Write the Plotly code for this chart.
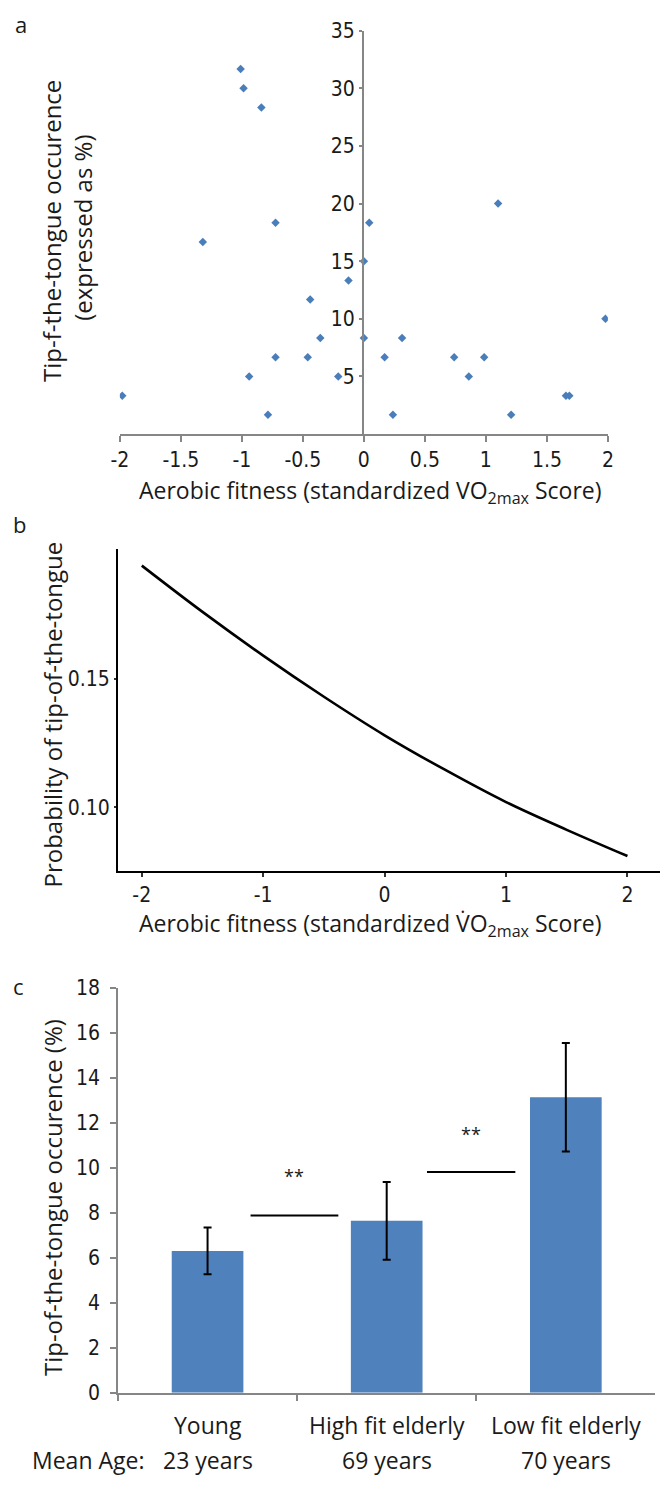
import plotly.graph_objects as go

# ---------------- data ----------------
# Panel a: scatter
fit_x = [-1.01, -0.986, -0.84, -0.724, -1.32, 0.044, 1.10, 0.0, -0.126, -0.44,
         1.98, -0.357, 0.0, 0.313, -0.724, -0.46, 0.17, 0.74, 0.986,
         -0.94, -0.21, 0.86, -1.98, 1.656, 1.684, -0.786, 0.238, 1.207]
tot_pct = [31.67, 30.0, 28.33, 18.33, 16.67, 18.33, 20.0, 15.0, 13.33, 11.67,
           10.0, 8.33, 8.33, 8.33, 6.67, 6.67, 6.67, 6.67, 6.67,
           5.0, 5.0, 5.0, 3.33, 3.33, 3.33, 1.67, 1.67, 1.67]
a_xticks = [-2, -1.5, -1, -0.5, 0, 0.5, 1, 1.5, 2]
a_xticklabels = ["-2", "-1.5", "-1", "-0.5", "0", "0.5", "1", "1.5", "2"]
a_yticks = [5, 10, 15, 20, 25, 30, 35]

# Panel b: fitted probability curve
curve_x = [-2, -1.5, -1, -0.5, 0, 0.5, 1, 1.5, 2]
curve_p = [0.194, 0.176, 0.159, 0.143, 0.128, 0.1145, 0.102, 0.0912, 0.081]
b_xticks = [-2, -1, 0, 1, 2]
b_xticklabels = ["-2", "-1", "0", "1", "2"]
b_yticks = [0.10, 0.15]
b_yticklabels = ["0.10", "0.15"]

# Panel c: bars
groups = ["Young", "High fit elderly", "Low fit elderly"]
ages = ["23 years", "69 years", "70 years"]
means = [6.3, 7.64, 13.13]
errs = [1.04, 1.73, 2.41]
c_yticks = [0, 2, 4, 6, 8, 10, 12, 14, 16, 18]
# significance brackets: (x start, x end, line level, star level)
sig_x0 = [0.24, 1.225]
sig_x1 = [0.73, 1.718]
sig_line = [7.88, 9.81]
sig_star = [9.65, 11.5]
sig_text = ["**", "**"]

# ---------------- layout helpers ----------------
W, H = 666, 1489
def px(x):
    return x / W
def py(y):
    return 1 - y / H

TXT = "Open Sans, Noto Sans, sans-serif"
NUM = "Liberation Sans Narrow, DejaVu Sans Condensed, sans-serif"
GRAY = "#868686"
BLUE_PT = "#4a7ebb"
BLUE_BAR = "#4f81bd"
INK = "#1a1a1a"

fig = go.Figure()

fig.add_trace(go.Scatter(
    x=fit_x, y=tot_pct, mode="markers",
    marker=dict(symbol="diamond", size=6.5, color=BLUE_PT),
    xaxis="x", yaxis="y", showlegend=False))

fig.add_trace(go.Scatter(
    x=curve_x, y=curve_p, mode="lines",
    line=dict(color="black", width=2.6, shape="spline"),
    xaxis="x2", yaxis="y2", showlegend=False))

fig.add_trace(go.Bar(
    x=groups, y=means, width=0.4, marker=dict(color=BLUE_BAR, line=dict(width=0)),
    error_y=dict(type="data", array=errs, color="black", thickness=2, width=4),
    xaxis="x3", yaxis="y3", showlegend=False))

tickfont = dict(family=NUM, size=21, color=INK)

fig.update_layout(
    width=W, height=H,
    margin=dict(l=0, r=0, t=0, b=0),
    paper_bgcolor="white", plot_bgcolor="white",
    font=dict(family=TXT, color=INK),
    xaxis=dict(domain=[px(113.4), px(612.7)], range=[-2, 2], anchor="y",
               tickvals=a_xticks, ticktext=a_xticklabels,
               showline=True, linecolor=GRAY, linewidth=1.5,
               ticks="outside", ticklen=6, tickcolor=GRAY, tickwidth=1.5,
               showgrid=False, zeroline=False, tickfont=tickfont),
    yaxis=dict(domain=[py(429), py(19)], range=[0, 35], anchor="free",
               position=px(362),
               tickvals=a_yticks,
               showline=True, linecolor=GRAY, linewidth=1.5,
               ticks="outside", ticklen=3, tickcolor=GRAY, tickwidth=1.5,
               showgrid=False, zeroline=False, tickfont=tickfont),
    xaxis2=dict(domain=[px(111.5), 1.0], range=[-2.196, 2.268], anchor="y2",
                tickvals=b_xticks, ticktext=b_xticklabels,
                showline=True, linecolor="black", linewidth=2,
                ticks="outside", ticklen=4, tickcolor="#333", tickwidth=2,
                showgrid=False, zeroline=False, tickfont=tickfont),
    yaxis2=dict(domain=[py(873.3), py(546)], range=[0.0751, 0.2004], anchor="x2",
                tickvals=b_yticks, ticktext=b_yticklabels,
                showline=True, linecolor="black", linewidth=2,
                ticks="outside", ticklen=2, tickcolor="#333", tickwidth=2,
                showgrid=False, zeroline=False, tickfont=tickfont),
    xaxis3=dict(domain=[px(111.5), px(661.3)], range=[-0.5, 2.5], anchor="y3",
                type="category", tickson="boundaries", showticklabels=False,
                showline=True, linecolor=GRAY, linewidth=1.5,
                ticks="outside", ticklen=7, tickcolor=GRAY, tickwidth=1.5,
                showgrid=False, zeroline=False),
    yaxis3=dict(domain=[py(1403.3), py(991.7)], range=[0, 18], anchor="x3",
                tickvals=c_yticks,
                showline=True, linecolor=GRAY, linewidth=1.5,
                ticks="outside", ticklen=6, tickcolor=GRAY, tickwidth=1.5,
                ticklabelstandoff=6,
                showgrid=False, zeroline=False, tickfont=tickfont),
)

ann = []
def A(text, x, y, size, angle=0, xanchor="center", family=TXT, xref="paper", yref="paper"):
    ann.append(dict(text=text, x=x, y=y, xref=xref, yref=yref, showarrow=False,
                    xanchor=xanchor, yanchor="middle", textangle=angle,
                    font=dict(family=family, size=size, color=INK)))

# panel labels
A("a", px(12), py(12), 22)
A("b", px(11), py(520), 22)
A("c", px(10), py(990), 22)

# panel a titles
A("Aerobic fitness (standardized VO<sub>2max</sub> Score)", px(370), py(487), 23)
A("Tip-f-the-tongue occurence", px(44), py(222.5), 24, angle=-90)
A("(expressed as %)", px(75), py(219), 24, angle=-90)

# panel b titles
A("Probability of tip-of-the-tongue", px(44), py(714), 24, angle=-90)
A("Aerobic fitness (standardized V\u0307O<sub>2max</sub> Score)", px(370), py(927), 23)

# panel c titles and labels
A("Tip-of-the-tongue occurence (%)", px(44), py(1205.5), 24, angle=-90)
for g, a_ in zip(groups, ages):
    A(g, g, py(1436), 23, xref="x3")
    A(a_, g, py(1472), 23, xref="x3")
A("Mean Age:", px(21), py(1472), 23, xanchor="left")

shapes = []
for x0, x1, yl, ys, t in zip(sig_x0, sig_x1, sig_line, sig_star, sig_text):
    shapes.append(dict(type="line", xref="x3", yref="y3", x0=x0, x1=x1, y0=yl, y1=yl,
                       line=dict(color="black", width=2)))
    ann.append(dict(text=t, x=(x0 + x1) / 2, y=ys, xref="x3", yref="y3", showarrow=False,
                    xanchor="center", yanchor="middle",
                    font=dict(family=TXT, size=18, color=INK)))

fig.update_layout(annotations=ann, shapes=shapes)
fig.write_html("out.html",
               config={"displayModeBar": False},
               post_script="document.body.style.margin='0px';"
                           "document.documentElement.style.overflow='hidden';")
